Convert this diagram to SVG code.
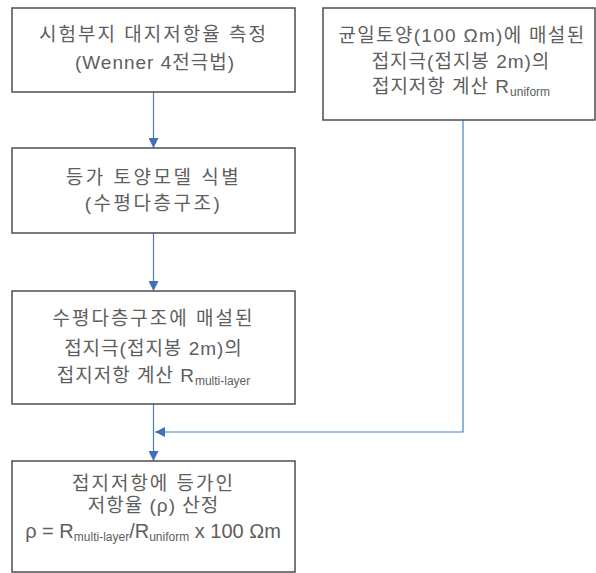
<svg xmlns="http://www.w3.org/2000/svg" width="596" height="573" viewBox="0 0 596 573">
<defs>
<style>
.box{fill:#ffffff;stroke:#4d4d4d;stroke-width:1.5}
.t{font-family:"Liberation Sans","Noto Sans CJK KR",sans-serif;font-size:19px;fill:#5e5e5e;text-anchor:middle;letter-spacing:1px}
.sub{font-size:12px;letter-spacing:0}
.c{fill:none;stroke:#4a7ebb;stroke-width:1.2}
</style>
<marker id="ah" viewBox="0 0 10 10" refX="10" refY="5" markerWidth="10" markerHeight="10" markerUnits="userSpaceOnUse" orient="auto">
<path d="M0,0 L10,5 L0,10 z" fill="#3f72b5"/>
</marker>
</defs>
<rect width="596" height="573" fill="#ffffff"/>
<g id="connectors">
<line class="c" x1="153.5" y1="92" x2="153.5" y2="148" marker-end="url(#ah)"/>
<line class="c" x1="153.5" y1="233" x2="153.5" y2="291" marker-end="url(#ah)"/>
<line class="c" x1="153.5" y1="404" x2="153.5" y2="461" marker-end="url(#ah)"/>
<polyline class="c" points="463,120 463,432 155,432" marker-end="url(#ah)"/>
</g>
<g id="node1">
<rect class="box" x="12" y="8" width="283" height="84"/>
<text class="t" x="153.5" y="41" style="letter-spacing:2px">시험부지 대지저항율 측정</text>
<text class="t" x="155" y="69">(Wenner 4전극법)</text>
</g>
<g id="node2">
<rect class="box" x="323" y="8" width="272" height="112"/>
<text class="t" x="462" y="42" style="letter-spacing:1.3px">균일토양(100 Ωm)에 매설된</text>
<text class="t" x="461" y="68">접지극(접지봉 2m)의</text>
<text class="t" x="461" y="93">접지저항 계산 R<tspan class="sub" dy="3">uniform</tspan></text>
</g>
<g id="node3">
<rect class="box" x="12" y="148" width="283" height="85"/>
<text class="t" x="153.5" y="184" style="letter-spacing:2.5px">등가 토양모델 식별</text>
<text class="t" x="153.5" y="210" style="letter-spacing:2.5px">(수평다층구조)</text>
</g>
<g id="node4">
<rect class="box" x="12" y="291" width="283" height="113"/>
<text class="t" x="153.5" y="325" style="letter-spacing:2px">수평다층구조에 매설된</text>
<text class="t" x="153.5" y="355">접지극(접지봉 2m)의</text>
<text class="t" x="153.5" y="382">접지저항 계산 R<tspan class="sub" dy="3">multi-layer</tspan></text>
</g>
<g id="node5">
<rect class="box" x="12" y="461" width="283" height="111"/>
<text class="t" x="153.5" y="490" style="letter-spacing:2px">접지저항에 등가인</text>
<text class="t" x="153.5" y="512">저항율  (ρ) 산정</text>
<text class="t" x="153" y="538" style="letter-spacing:0;font-size:20px">ρ = R<tspan class="sub" dy="3">multi-layer</tspan><tspan dy="-3">/R</tspan><tspan class="sub" dy="3">uniform</tspan><tspan dy="-3"> x 100 Ωm</tspan></text>
</g>
</svg>
